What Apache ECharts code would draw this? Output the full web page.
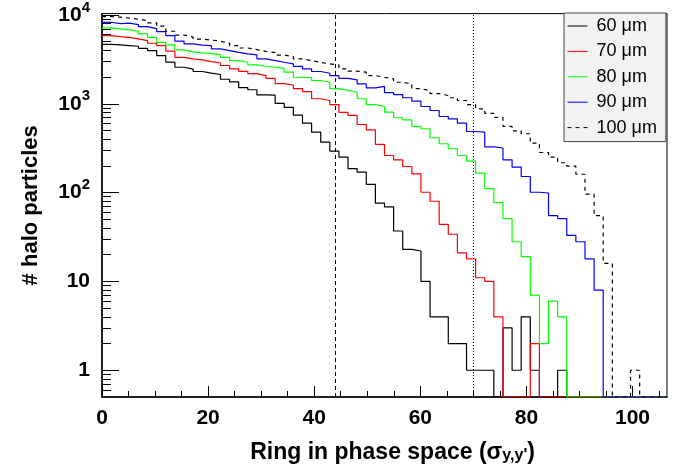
<!DOCTYPE html>
<html>
<head>
<meta charset="utf-8">
<script src="https://cdn.jsdelivr.net/npm/echarts@6/dist/echarts.min.js"></script>
<style>
html, body { margin: 0; padding: 0; background: #fff; }
#chart { width: 688px; height: 475px; }
</style>
</head>
<body>
<div id="chart"></div>
<script>
// histogram binning: 62 equal bins from 0 to XMAX
var XMAX = 106.5;
var NBINS = 62;
var BIN_W = XMAX / NBINS;
var Y_MIN = 0.5;
var Y_MAX = 10370;

var seriesNames = ["60 μm", "70 μm", "80 μm", "90 μm", "100 μm"];

// bin contents (0 = empty bin)
var h60 = [4680, 4610, 4530, 4450, 4220, 3980, 3490, 2940, 2580, 2460,
  2310, 2220, 2140, 1890, 1770, 1520, 1440, 1260, 1250, 1010,
  910, 745, 605, 480, 370, 293, 251, 186, 170, 124,
  76, 69, 37, 23, 22, 10, 4, 4, 2, 2,
  1, 1, 1, 0, 3, 1, 4, 1, 0, 0,
  1, 0, 0, 0, 0, 0, 0, 0, 0, 0, 0, 0];
var h70 = [5870, 5710, 5610, 5380, 5150, 4810, 4530, 3910, 3340, 3210,
  3130, 2990, 2880, 2700, 2480, 2320, 2190, 2080, 1930, 1690,
  1630, 1480, 1370, 1140, 1090, 980, 800, 740, 585, 510,
  350, 262, 234, 197, 163, 101, 80, 44, 34, 21,
  18, 11, 10, 4, 0, 0, 0, 2, 0, 0,
  0, 0, 0, 0, 0, 0, 0, 0, 0, 0, 0, 0];
var h80 = [7160, 6980, 6800, 6560, 6130, 5610, 4930, 4610, 4050, 3850,
  3750, 3700, 3560, 3340, 3070, 2940, 2750, 2650, 2580, 2510,
  2270, 1990, 1960, 1830, 1750, 1480, 1420, 1350, 1140, 980,
  933, 805, 697, 661, 556, 524, 415, 355, 312, 262,
  226, 166, 111, 77, 51, 28, 19, 7, 2, 6,
  4, 0, 0, 0, 0, 0, 0, 0, 0, 0, 0, 0];
var h90 = [8280, 8000, 8110, 7800, 7400, 7030, 6500, 5870, 5080, 4730,
  4590, 4530, 4160, 3980, 3800, 3650, 3560, 3210, 3070, 2940,
  2820, 2640, 2480, 2310, 2210, 2080, 1930, 1860, 1680, 1510,
  1570, 1340, 1270, 1170, 1070, 933, 841, 720, 678, 605,
  488, 480, 328, 318, 234, 194, 152, 101, 99, 55,
  51, 33, 28, 18, 8, 0, 0, 0, 0, 0, 0, 0];
var h100 = [9590, 9470, 9230, 8990, 8650, 8150, 7500, 6560, 5940, 5640,
  5350, 5220, 5080, 4830, 4530, 4250, 4080, 3900, 3780, 3540,
  3400, 3210, 3070, 2920, 2820, 2730, 2480, 2330, 2270, 2080,
  1990, 1910, 1750, 1680, 1480, 1410, 1300, 1240, 1170, 1090,
  980, 879, 782, 702, 556, 497, 460, 360, 283, 251,
  217, 199, 161, 96, 55, 16, 0, 0, 1, 0, 0, 0];

// axis ticks
var xMajorTicks = [0, 20, 40, 60, 80, 100];
var xMinorTicks = [5, 10, 15, 25, 30, 35, 45, 50, 55, 65, 70, 75, 85, 90, 95, 105];
var yMajorTicks = [1, 10, 100, 1000, 10000];
var yMinorTicks = [];
[0.1, 1, 10, 100, 1000].forEach(function (d) {
  for (var m = 2; m <= 9; m++) {
    var t = +(m * d).toPrecision(3);
    if (t > Y_MIN && t < Y_MAX) yMinorTicks.push(t);
  }
});

// vertical marker lines
var cut1 = 44;
var cut2 = 70;

var FONT = '"Liberation Sans", Arial, Helvetica, sans-serif';
var colors = ['#000000', '#ff0000', '#00ff00', '#0000ff', '#000000'];
var dashes = ['solid', 'solid', 'solid', 'solid', [4, 4]];

// bins -> step points (empty bins sit on the axis floor, like ROOT)
function steps(arr) {
  var pts = arr.map(function (v, i) {
    return [i * BIN_W, v > 0 ? v : Y_MIN];
  });
  var last = arr[arr.length - 1];
  pts.push([arr.length * BIN_W, last > 0 ? last : Y_MIN]);
  return pts;
}

var hists = [h60, h70, h80, h90, h100];
var series = hists.map(function (h, i) {
  return {
    name: seriesNames[i],
    type: 'line',
    step: 'end',
    data: steps(h),
    symbol: 'none',
    showSymbol: false,
    lineStyle: { color: colors[i], width: 1.2, type: dashes[i] },
    itemStyle: { color: colors[i] },
    emphasis: { disabled: true },
    z: 3 + i
  };
});
series[0].markLine = {
  silent: true,
  symbol: ['none', 'none'],
  label: { show: false },
  animation: false,
  data: [
    { xAxis: cut1, lineStyle: { color: '#000', width: 1, type: [4, 3] } },
    { xAxis: cut2, lineStyle: { color: '#000', width: 1, type: [1, 2] } }
  ]
};

var chart = echarts.init(document.getElementById('chart'));
var option = {
  animation: false,
  backgroundColor: '#ffffff',
  grid: {
    left: 102, right: 21, top: 13, bottom: 78,
    show: true, borderColor: '#000', borderWidth: 1, backgroundColor: 'transparent'
  },
  legend: {
    data: seriesNames,
    orient: 'vertical',
    left: 564,
    top: 13,
    padding: [4, 9, 5, 3],
    itemWidth: 20,
    itemHeight: 18,
    itemGap: 7.4,
    backgroundColor: '#f2f2f2',
    borderColor: '#444',
    borderWidth: 1,
    borderRadius: 0,
    selectedMode: false,
    itemStyle: { opacity: 0 },
    lineStyle: { width: 1 },
    textStyle: { fontFamily: FONT, fontSize: 18, color: '#000', lineHeight: 18, padding: [0, 0, 0, 4] }
  },
  xAxis: [{
    type: 'value',
    min: 0,
    max: XMAX,
    name: 'Ring in phase space (σ{sub|y,y\'})',
    nameLocation: 'middle',
    nameGap: 44,
    nameTextStyle: {
      fontFamily: FONT, fontSize: 23, fontWeight: 'bold', color: '#000',
      padding: [0, 0, 0, 16],
      rich: { sub: { fontFamily: FONT, fontSize: 16, fontWeight: 'bold', color: '#000', verticalAlign: 'bottom', lineHeight: 16, padding: [9, 0, 0, 0] } }
    },
    axisLine: { show: true, lineStyle: { color: '#000', width: 1.5 } },
    axisTick: { show: true, inside: true, length: 11, customValues: xMajorTicks, lineStyle: { color: '#000' } },
    minorTick: { show: false },
    splitLine: { show: false },
    axisLabel: {
      customValues: xMajorTicks,
      margin: 11,
      fontFamily: FONT, fontSize: 21, fontWeight: 'bold', color: '#000'
    }
  }, {
    type: 'value',
    min: 0,
    max: XMAX,
    position: 'bottom',
    axisLine: { show: false },
    axisTick: { show: true, inside: true, length: 6, customValues: xMinorTicks, lineStyle: { color: '#000' } },
    axisLabel: { show: false },
    splitLine: { show: false }
  }],
  yAxis: [{
    type: 'log',
    logBase: 10,
    min: Y_MIN,
    max: Y_MAX,
    position: 'left',
    name: '# halo particles',
    nameLocation: 'middle',
    nameGap: 60,
    nameTextStyle: { fontFamily: FONT, fontSize: 22, fontWeight: 'bold', color: '#000' },
    axisLine: { show: true, lineStyle: { color: '#000', width: 1.5 } },
    axisTick: { show: true, inside: true, length: 17, customValues: yMajorTicks, lineStyle: { color: '#000' } },
    splitLine: { show: false },
    axisLabel: {
      customValues: yMajorTicks,
      margin: 12,
      fontFamily: FONT, fontSize: 21, fontWeight: 'bold', color: '#000',
      lineHeight: 30,
      formatter: function (v) {
        var e = Math.round(Math.log(v) / Math.LN10);
        if (e === 0) return '1';
        if (e === 1) return '10';
        return '10{sup|' + e + '}';
      },
      rich: { sup: { fontFamily: FONT, fontSize: 15, fontWeight: 'bold', color: '#000', verticalAlign: 'top', lineHeight: 16 } }
    }
  }, {
    type: 'log',
    logBase: 10,
    min: Y_MIN,
    max: Y_MAX,
    position: 'left',
    offset: 0,
    axisLine: { show: false },
    axisTick: { show: true, inside: true, length: 9, customValues: yMinorTicks, lineStyle: { color: '#000' } },
    axisLabel: { show: false },
    splitLine: { show: false }
  }],
  series: series
};
chart.setOption(option);
</script>
</body>
</html>
